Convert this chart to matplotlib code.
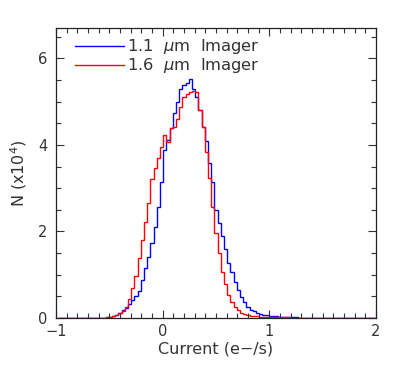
import matplotlib
matplotlib.use("Agg")
import matplotlib.pyplot as plt
from matplotlib.ticker import MultipleLocator, FixedLocator
import numpy as np

# Histogram data (N in units of 1e4), bins of width 0.03 starting at -0.985
bin_start = -0.985
bin_width = 0.03

blue_counts = [
    0, 0, 0, 0, 0, 0, 0, 0, 0, 0,
    0, 0, 0, 0.005, 0.01, 0.02, 0.03, 0.05, 0.08, 0.12,
    0.18, 0.24, 0.32, 0.42, 0.50, 0.62, 0.88, 1.15, 1.41, 1.73,
    2.10, 2.57, 3.15, 3.88, 4.11, 4.38, 4.74, 5.00, 5.30, 5.38,
    5.44, 5.52, 5.30, 5.10, 4.80, 4.41, 4.09, 3.58, 3.14, 2.50,
    2.20, 1.90, 1.60, 1.28, 1.07, 0.84, 0.65, 0.49, 0.37, 0.25,
    0.18, 0.15, 0.12, 0.09, 0.08, 0.06, 0.05, 0.04, 0.035, 0.03,
    0.025, 0.02, 0.02, 0.015, 0.015, 0.01, 0.01, 0.01, 0.01, 0.01,
    0.005, 0.005, 0.005, 0.005, 0.005, 0.005, 0, 0, 0, 0,
    0, 0, 0, 0, 0, 0, 0, 0, 0, 0,
]

red_counts = [
    0, 0, 0, 0, 0, 0, 0, 0, 0, 0,
    0, 0, 0, 0.005, 0.01, 0.02, 0.03, 0.05, 0.08, 0.12,
    0.17, 0.25, 0.45, 0.69, 0.97, 1.38, 1.80, 2.22, 2.66, 3.20,
    3.46, 3.70, 3.95, 4.23, 4.07, 4.38, 4.42, 4.60, 4.87, 5.10,
    5.17, 5.23, 5.24, 5.23, 4.80, 4.41, 3.84, 3.23, 2.57, 1.97,
    1.50, 1.07, 0.78, 0.53, 0.37, 0.25, 0.18, 0.12, 0.09, 0.07,
    0.05, 0.04, 0.035, 0.03, 0.03, 0.025, 0.02, 0.02, 0.02, 0.02,
    0.02, 0.015, 0.015, 0.01, 0.01, 0.01, 0.01, 0.01, 0.005, 0.005,
    0.005, 0.005, 0.005, 0, 0, 0, 0, 0, 0, 0,
    0, 0, 0, 0, 0, 0, 0, 0, 0, 0,
]

series_labels = ["1.1  $\\mu$m  Imager", "1.6  $\\mu$m  Imager"]
x_ticks = [-1, 0, 1, 2]
y_ticks = [0, 2, 4, 6]

edges = bin_start + bin_width * np.arange(len(blue_counts) + 1)

text_color = "#333333"
plt.rcParams["font.family"] = ["DejaVu Sans"]

fig = plt.figure(figsize=(3.99, 3.76), dpi=100)
ax = fig.add_axes([0.1404, 0.1543, 0.8020, 0.7712])

ax.stairs(blue_counts, edges, color="blue", linewidth=1.0, label=series_labels[0], baseline=None)
ax.stairs(red_counts, edges, color="red", linewidth=1.0, label=series_labels[1], baseline=None)

ax.set_xlim(-1, 2)
ax.set_ylim(0, 6.7)

ax.xaxis.set_major_locator(FixedLocator(x_ticks))
ax.xaxis.set_minor_locator(MultipleLocator(0.1))
ax.yaxis.set_major_locator(FixedLocator(y_ticks))
ax.yaxis.set_minor_locator(MultipleLocator(0.5))

ax.tick_params(which="both", direction="in", top=True, right=True,
               colors=text_color, labelsize=10.5)
ax.tick_params(which="major", length=6, width=0.8)
ax.tick_params(which="minor", length=3.5, width=0.8)
ax.tick_params(axis="x", pad=4)
ax.tick_params(axis="y", pad=6)

for s in ax.spines.values():
    s.set_color("#222222")
    s.set_linewidth(0.9)

ax.set_xlabel("Current (e\u2212/s)", fontsize=11.5, color=text_color, labelpad=2)
ax.set_ylabel("N (x10$^4$)", fontsize=11.5, color=text_color, labelpad=7)

leg = ax.legend(loc="upper left", frameon=False, fontsize=11.8,
                handlelength=3.0, handletextpad=0.2, labelspacing=0.0,
                borderaxespad=0.0, borderpad=0.0,
                bbox_to_anchor=(0.058, 0.968))
for t in leg.get_texts():
    t.set_color(text_color)

fig.savefig("out.png", dpi=100)
